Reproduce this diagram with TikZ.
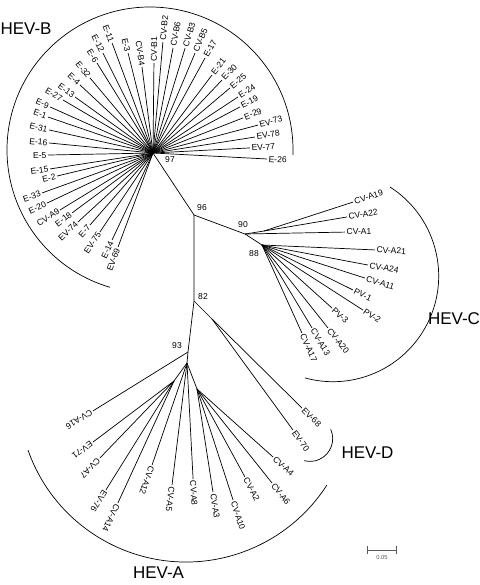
\documentclass[tikz,border=0pt]{standalone}
\usepackage{fontspec}
\setsansfont{Liberation Sans}
\usetikzlibrary{positioning}

\begin{document}
\begin{tikzpicture}[x=0.03cm, y=0.03cm,
    leaf/.style={font=\sffamily\fontsize{7.3}{8}\selectfont, inner sep=1.2pt},
    boot/.style={font=\sffamily\fontsize{7.3}{8}\selectfont, inner sep=0pt},
    clade/.style={font=\sffamily\fontsize{14.5}{16}\selectfont, inner sep=0pt},
    branch/.style={line width=0.6pt}]
  \useasboundingbox (0,0) rectangle (480,-585);

  % internal nodes
  \coordinate (hB) at (153,-153);
  \coordinate (n96) at (194,-215);
  \coordinate (n90) at (245,-234);
  \coordinate (sC) at (264,-231);
  \coordinate (n88) at (262,-245);
  \coordinate (n82) at (194,-301);
  \coordinate (sD) at (212,-319);
  \coordinate (n93) at (188,-352);
  \coordinate (hA) at (187,-363);
  \coordinate (sA1) at (174,-381);
  \coordinate (sA2) at (197,-389);

  \draw[branch] (hB) -- (n96) -- (n90) -- (n88);
  \draw[branch] (n90) -- (sC);
  \draw[branch] (n96) -- (n82) -- (sD);
  \draw[branch] (n82) -- (n93) -- (hA);
  \draw[branch] (hA) -- (sA1);
  \draw[branch] (hA) -- (sA2);

  % HEV-B
  \foreach \a/\l/\n in {110.4/117.4/E-11, 116.6/111.8/E-12, 121.9/106/E-6, 130/98/E-32,
      137/99.8/E-4, 144.3/96/E-13, 149.5/104.4/E-27, 155.9/112.8/E-9, 161.1/111/E-1,
      167.5/106.5/E-31, 174.5/104.5/E-16, 181.1/105/E-5, 188.8/104.2/E-15, 193.5/98.7/E-2,
      199.8/118/E-33, 205.3/117.2/E-20, 211.5/109/CV-A9, 216.5/100.8/E-18, 222.6/102/EV-74,
      228.8/95.7/E-7, 236.1/95.1/EV-75, 244.8/96.2/E-14, 249.6/100.3/EV-69,
      104/103/E-3, 97.3/86.7/CV-B4}
    {\path (hB) ++(\a:\l) node[leaf, anchor=east, rotate=\a-180] (\n) {\n};
     \draw[branch] (hB) -- (\n.east);}
  \foreach \a/\l/\n in {89.4/90/CV-B1, 84.9/111.4/CV-B2, 79.2/106.9/CV-B6, 73/109.8/CV-B3,
      67.2/108.5/CV-B5, 61.3/108.3/E-17, 52.9/97.8/E-21, 46.6/100.4/E-30, 40.2/100.8/E-25,
      33.4/101.8/E-24, 27.9/98.4/E-19, 21.3/96.6/E-29, 14.9/108.7/EV-73, 8.9/103.2/EV-78,
      3/97.1/EV-77, -3/114.2/E-26}
    {\path (hB) ++(\a:\l) node[leaf, anchor=west, rotate=\a] (\n) {\n};
     \draw[branch] (hB) -- (\n.west);}

  % HEV-C
  \path (n90) ++(1.1:100) node[leaf, anchor=west, rotate=1.1] (CV-A1) {CV-A1};
  \draw[branch] (n90) -- (CV-A1.west);
  \foreach \a/\l/\n in {9.6/84.2/CV-A22, 18/93.6/CV-A19}
    {\path (sC) ++(\a:\l) node[leaf, anchor=west, rotate=\a] (\n) {\n};
     \draw[branch] (sC) -- (\n.west);}
  \foreach \a/\l/\n in {-2.5/113.1/CV-A21, -10.7/107.9/CV-A24, -17.8/108.2/CV-A11,
      -26.3/101.5/PV-1, -32.8/120.1/PV-2, -42/94.2/PV-3, -51.5/106/CV-A20,
      -58.9/96.9/CV-A13, -65.6/96.7/CV-A17}
    {\path (n88) ++(\a:\l) node[leaf, anchor=west, rotate=\a] (\n) {\n};
     \draw[branch] (n88) -- (\n.west);}

  % HEV-D
  \foreach \a/\l/\n in {-44.7/126.6/EV-68, -53.9/137.4/EV-70}
    {\path (sD) ++(\a:\l) node[leaf, anchor=west, rotate=\a] (\n) {\n};
     \draw[branch] (sD) -- (\n.west);}

  % HEV-A
  \path (n93) ++(211.8:111.8) node[leaf, anchor=west, rotate=211.8] (CV-A16) {CV-A16};
  \draw[branch] (n93) -- (CV-A16.west);
  \foreach \a/\l/\n in {217/101.4/EV-71, 226.1/106.8/CV-A7, 238/128.5/EV-76, 245.3/134.2/CV-A14}
    {\path (sA1) ++(\a:\l) node[leaf, anchor=west, rotate=\a] (\n) {\n};
     \draw[branch] (sA1) -- (\n.west);}
  \foreach \a/\l/\n in {251.1/107.8/CV-A12, 263/122.9/CV-A5, 273/116.2/CV-A8}
    {\path (hA) ++(\a:\l) node[leaf, anchor=west, rotate=\a] (\n) {\n};
     \draw[branch] (hA) -- (\n.west);}
  \foreach \a/\l/\n in {-81.2/104.2/CV-A3, -72/116.7/CV-A10, -61.4/100.2/CV-A2,
      -51.4/120.3/CV-A6, -41.8/102/CV-A4}
    {\path (sA2) ++(\a:\l) node[leaf, anchor=west, rotate=\a] (\n) {\n};
     \draw[branch] (sA2) -- (\n.west);}

  % bootstrap values
  \node[boot] (b97) at (170,-160) {97};
  \node[boot] (b96) at (202,-208) {96};
  \node[boot] (b90) at (243,-225) {90};
  \node[boot] (b88) at (254,-254) {88};
  \node[boot] (b82) at (203,-297) {82};
  \node[boot] (b93) at (177,-346) {93};

  % clade arcs
  \coordinate (cB) at (150,-150);
  \coordinate (cC) at (333,-276);
  \coordinate (cD) at (310,-438.7);
  \coordinate (cA) at (186,-394.5);
  \draw[branch] (cB) ++(-2:143) arc[start angle=-2, end angle=253.7, radius=143];
  \draw[branch] (cC) ++(57.4:105.7) arc[start angle=57.4, end angle=-105.4, radius=105.7];
  \draw[branch] (cD) ++(24.4:22.7) arc[start angle=24.4, end angle=-105, radius=22.7];
  \draw[branch] (cA) ++(199.4:167.5) arc[start angle=199.4, end angle=327.3, radius=167.5];

  \node[clade] (HEV-B) at (26,-28.5) {HEV-B};
  \node[clade] (HEV-C) at (454,-319) {HEV-C};
  \node[clade] (HEV-D) at (367.5,-452.5) {HEV-D};
  \node[clade] (HEV-A) at (158.5,-573) {HEV-A};

  % scale bar
  \coordinate (sbL) at (367,-550);
  \coordinate (sbR) at (397,-550);
  \draw[gray!70!black, line width=0.6pt, |-|] (sbL) -- (sbR);
  \node[font=\sffamily\fontsize{5}{6}\selectfont, text=gray!70!black, inner sep=0pt] (sb) at (382,-557) {0.05};
\end{tikzpicture}
\end{document}
